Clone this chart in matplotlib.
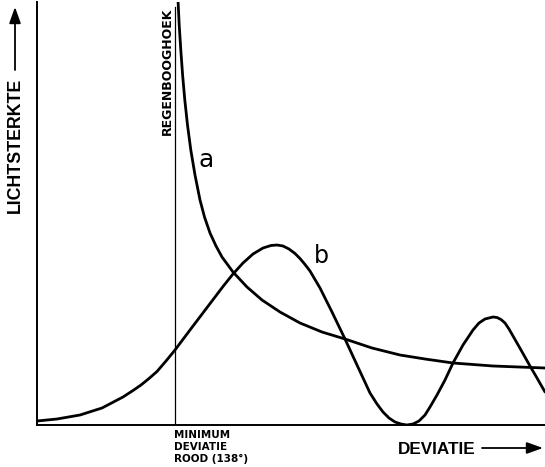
import matplotlib
matplotlib.use('Agg')
from matplotlib import pyplot as plt

# figure is laid out in pixel units of the reference (545 x 467)
W, H = 545, 467

# curve a: intensity of geometric optics, diverges at the rainbow angle
a_dev = [141, 142.2, 143.8, 145.6, 147.8, 150.5, 153.8, 158, 163, 167.5, 173, 179, 185, 196, 210, 225, 243, 263,
         285, 308, 335, 363, 388, 416, 456, 508]
a_int = [425, 400, 375, 350, 325, 300, 275, 250, 225, 208, 192, 179, 168, 153, 138, 125, 113, 102,
         93, 86, 77, 70, 66, 62, 59, 57]

# curve b: wave-optics (Airy) intensity
b_dev = [0, 20, 43, 65, 86, 96, 104, 112, 120, 129, 138, 153, 164, 175, 186, 196, 206, 216, 226, 234, 240, 246,
         252, 258, 263, 268, 273, 283, 295, 308, 320, 333, 340, 346, 352, 358, 364, 370, 376, 382, 388, 393, 400,
         408, 416, 426, 436, 442, 448, 456, 460, 464, 468, 472, 476, 484, 493, 500, 508]
b_int = [4, 6, 10, 17, 28, 34.5, 40, 46.5, 53.5, 64, 75, 95, 109.5, 124, 138.5, 151, 162, 171, 177, 179.5, 180, 179,
         176, 171.5, 166.5, 160.5, 154, 137, 113, 86, 60, 32, 21, 13, 7, 3, 1, 0, 1, 4, 10, 18, 30,
         45, 62, 80, 95, 102, 106, 108, 107.5, 105.5, 102, 96, 89, 75, 59, 47, 33]

rainbow_dev = 138  # minimum deviation red (138 deg)

fig = plt.figure(figsize=(W / 100, H / 100), dpi=100)
ax = fig.add_axes([37 / W, (H - 425) / H, (W - 37) / W, 423 / H])
ax.set_xlim(0, 508)
ax.set_ylim(0, 423)

ax.plot(a_dev, a_int, color='black', lw=2.0, solid_capstyle='round', solid_joinstyle='round')
ax.plot(b_dev, b_int, color='black', lw=2.0, solid_capstyle='round', solid_joinstyle='round')
ax.plot([rainbow_dev, rainbow_dev], [0, 418], color='black', lw=0.9)

for s in ['top', 'right']:
    ax.spines[s].set_visible(False)
for s in ['left', 'bottom']:
    ax.spines[s].set_linewidth(1.4)
ax.set_xticks([])
ax.set_yticks([])

ax.text(169, 265, 'a', fontsize=18, ha='center', va='center', family='DejaVu Sans')
ax.text(284, 169, 'b', fontsize=17, ha='center', va='center', family='DejaVu Sans')

# labels outside the axes, positions in reference pixels
def fx(px):
    return px / W

def fy(py):
    return 1 - py / H

fig.text(fx(15), fy(145), 'LICHTSTERKTE', rotation=90, ha='center', va='center',
         fontsize=12.8, fontweight='bold', family='Liberation Sans')
fig.text(fx(167), fy(71), 'REGENBOOGHOEK', rotation=90, ha='center', va='center',
         fontsize=9, fontweight='bold', family='DejaVu Sans')
fig.text(fx(174), fy(430), 'MINIMUM\nDEVIATIE\nROOD (138°)', ha='left', va='top',
         fontsize=7.5, fontweight='bold', family='DejaVu Sans', linespacing=1.25)
fig.text(fx(398), fy(449), 'DEVIATIE', ha='left', va='center',
         fontsize=12.3, fontweight='bold', family='Liberation Sans')

arrow = dict(arrowstyle='-|>,head_length=0.7,head_width=0.25', lw=1.3, color='black',
             mutation_scale=14, shrinkA=0, shrinkB=0)
ax.annotate('', xy=(fx(15), fy(7)), xycoords='figure fraction',
            xytext=(fx(15), fy(70)), textcoords='figure fraction',
            arrowprops=arrow, annotation_clip=False)
ax.annotate('', xy=(fx(543), fy(448)), xycoords='figure fraction',
            xytext=(fx(482), fy(448)), textcoords='figure fraction',
            arrowprops=arrow, annotation_clip=False)

plt.savefig('out.png', dpi=100)
